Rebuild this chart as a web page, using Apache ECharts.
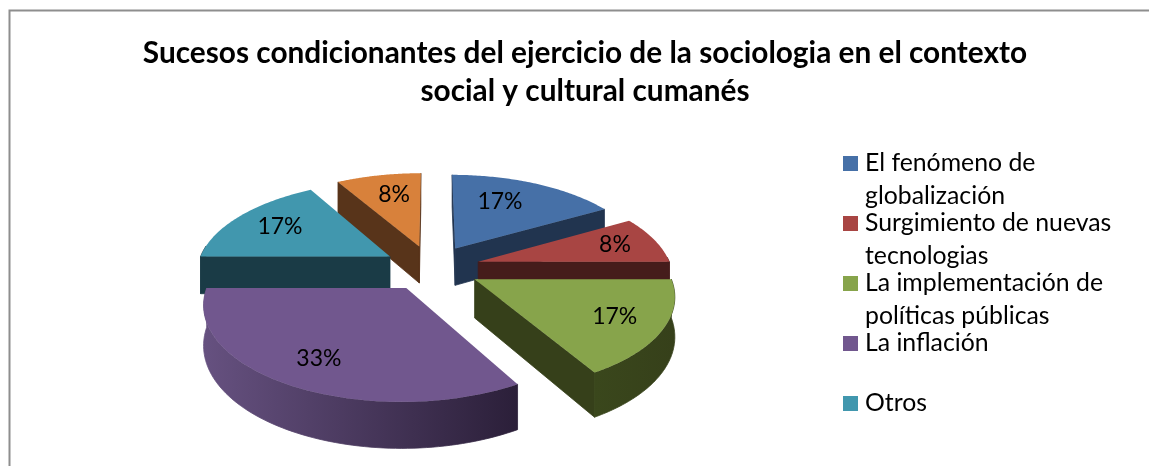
<!DOCTYPE html>
<html>
<head>
<meta charset="utf-8">
<style>html,body{margin:0;padding:0;background:#fff;overflow:hidden}#c{width:1149px;height:466px}</style>
<script src="https://cdn.jsdelivr.net/npm/echarts@6/dist/echarts.min.js"></script>
</head>
<body>
<div id="c"></div>
<script>
const titleText = 'Sucesos condicionantes del ejercicio de la sociologia en el contexto\nsocial y cultural cumanés';
const categories = ['El fenómeno de\nglobalización', 'Surgimiento de nuevas\ntecnologias', 'La implementación de\npolíticas públicas', 'La inflación', 'Otros', ''];
const shares = [16.67, 8.33, 16.67, 33.33, 16.67, 8.33];
const topColors = ['#4670a7', '#a84543', '#87a44b', '#71578e', '#4197ae', '#d8813b'];
const wallLight = ['#21344f', '#451c1b', '#3a471c', '#665180', '#1a3b46', '#58341a'];
const wallDark = ['#21344f', '#451c1b', '#36401a', '#2b1f39', '#1a3b46', '#58341a'];
const drawOrder = [5, 0, 1, 4, 2, 3];
const labelInset = [0.67, 0.77, 0.76, 0.76, 0.72, 0.69];
const labelTurnDeg = [-6, 0, 0, 0, 0, 2];

const CX = 431.5, CY = 267.6, RX = 193, RY = 90, PERSP = 0.15, EXPLODE = 0.253, H = 38;
const total = shares.reduce((a, b) => a + b, 0);
const starts = [];
shares.reduce((acc, v, i) => { starts[i] = acc; return acc + v; }, 0);
const rad = v => v / total * 2 * Math.PI;

function project(wx, wy, drop) {
  const s = 1 / (1 + PERSP * wy);
  return [CX + RX * wx * s, CY - RY * wy * s + H * s * (drop ? 1 : 0)];
}

function renderSlice(i) {
  return function (params, api) {
    const value = api.value(0);
    const t0 = rad(starts[i]), t1 = t0 + rad(value), mid = (t0 + t1) / 2;
    const ox = EXPLODE * Math.sin(mid), oy = EXPLODE * Math.cos(mid);
    const P = (t, r, drop) => project(ox + r * Math.sin(t), oy + r * Math.cos(t), drop);
    const apex = P(0, 0, false), apexLow = P(0, 0, true);
    const children = [];
    const poly = (points, fill, seam) => children.push({
      type: 'polygon', shape: { points }, silent: true,
      style: seam ? { fill, stroke: fill, lineWidth: 0.8 } : { fill }
    });
    const cross = (a, b, c) => (b[0] - a[0]) * (c[1] - b[1]) - (b[1] - a[1]) * (c[0] - b[0]);

    const r0 = P(t0, 1, false), r0l = P(t0, 1, true), r1 = P(t1, 1, false), r1l = P(t1, 1, true);
    if (cross(apex, r0, r0l) < -1e-6) poly([apex, r0, r0l, apexLow], wallDark[i], true);
    if (cross(apex, r1, r1l) > 1e-6) poly([apex, r1, r1l, apexLow], wallDark[i], true);

    const a = Math.max(t0, Math.PI / 2 - 0.05), b = Math.min(t1, 3 * Math.PI / 2 + 0.12);
    if (b > a) {
      const up = [], low = [];
      for (let k = 0; k <= 80; k++) {
        const t = a + (b - a) * k / 80;
        up.push(P(t, 1, false));
        low.unshift(P(t, 1, true));
      }
      const xs = up.map(p => p[0]);
      const grad = new echarts.graphic.LinearGradient(Math.min(...xs), 0, Math.max(...xs), 0,
        [{ offset: 0, color: wallLight[i] }, { offset: 1, color: wallDark[i] }], true);
      poly(up.concat(low), grad, true);
    }

    const face = [apex];
    for (let k = 0; k <= 80; k++) face.push(P(t0 + (t1 - t0) * k / 80, 1, false));
    poly(face, topColors[i], false);

    const lp = P(mid + labelTurnDeg[i] * Math.PI / 180, labelInset[i], false);
    children.push({
      type: 'text', silent: true, x: lp[0], y: lp[1],
      style: {
        text: Math.round(value / total * 100) + '%', fill: '#000',
        font: '23px Lato', align: 'center', verticalAlign: 'middle'
      }
    });
    return { type: 'group', children };
  };
}

const chart = echarts.init(document.getElementById('c'), null, { renderer: 'canvas' });
chart.setOption({
  animation: false,
  backgroundColor: '#fff',
  title: {
    text: titleText, left: 585, top: 34, padding: 0, textAlign: 'center',
    textStyle: { fontFamily: 'Lato', fontWeight: 'bold', fontSize: 29.8, lineHeight: 38, color: '#000' }
  },
  legend: {
    orient: 'vertical', left: 843, top: 147, height: 400, padding: 0,
    icon: 'path://M0 0H15V15H0ZM0 48H17',
    itemWidth: 17, itemHeight: 48, itemGap: -6,
    align: 'left', selectedMode: false,
    data: categories.filter(c => c),
    formatter: n => n.includes('\n') ? n : n + '\n ',
    textStyle: { fontFamily: 'Lato', fontSize: 24.8, lineHeight: 33, color: '#000' }
  },
  graphic: [{
    type: 'polyline', silent: true, z: -1,
    shape: { points: [[9.5, 466], [9.5, 10.5], [1149, 10.5]] },
    style: { stroke: '#8e8e8e', lineWidth: 2, fill: 'none' }
  }],
  series: categories.map((name, i) => ({
    type: 'custom',
    name,
    coordinateSystem: 'none',
    z: 2 + drawOrder.indexOf(i),
    itemStyle: { color: topColors[i] },
    renderItem: renderSlice(i),
    data: [[shares[i]]]
  }))
});
</script>
</body>
</html>
